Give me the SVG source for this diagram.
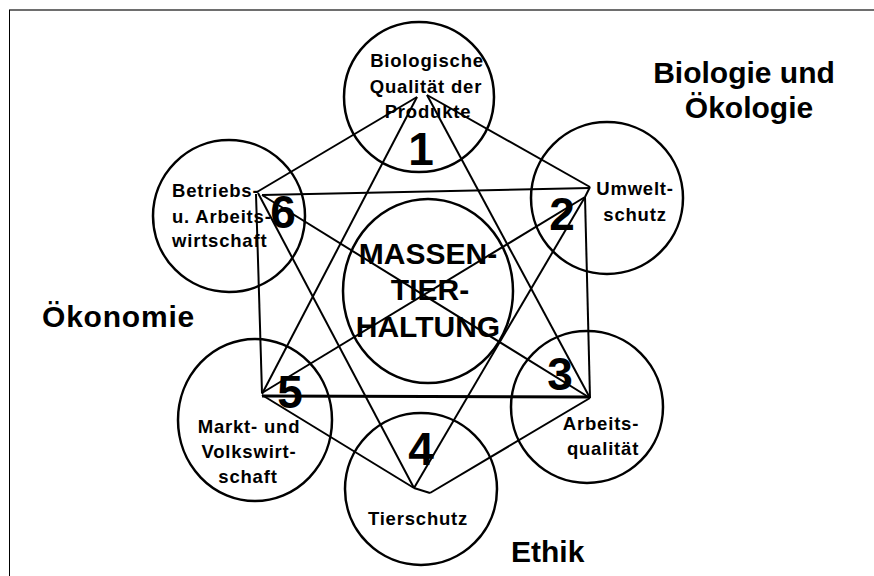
<svg xmlns="http://www.w3.org/2000/svg" width="874" height="576" viewBox="0 0 874 576">
<style>
.c{fill:none;stroke:#000;stroke-width:2.5}
.t{font-family:"Liberation Sans",Arial,sans-serif;font-weight:bold;font-size:18.5px;letter-spacing:0.8px;fill:#000}
.n{font-family:"Liberation Sans",Arial,sans-serif;font-weight:bold;font-size:46px;fill:#000;text-anchor:middle}
.m{font-family:"Liberation Sans",Arial,sans-serif;font-weight:bold;font-size:30px;fill:#000;text-anchor:middle}
.o{font-family:"Liberation Sans",Arial,sans-serif;font-weight:bold;font-size:30px;fill:#000}
.l{stroke:#000;stroke-width:2;fill:none}
</style>
<rect width="874" height="576" fill="#fff"/>
<line x1="9" y1="10" x2="874" y2="10" stroke="#6e6e6e" stroke-width="2"/>
<line x1="9.5" y1="10" x2="9.5" y2="576" stroke="#000" stroke-width="1"/>
<g id="node-center">
<ellipse class="c" cx="428" cy="291" rx="85" ry="92"/>
<text class="m" x="428" y="264">MASSEN-</text>
<text class="m" x="430" y="300">TIER-</text>
<text class="m" x="428" y="337">HALTUNG</text>
</g>
<g id="node-1">
<circle class="c" cx="419" cy="97" r="75"/>
<text class="t" text-anchor="middle" x="427" y="67">Biologische</text>
<text class="t" text-anchor="middle" x="426" y="93">Qualität der</text>
<text class="t" text-anchor="middle" x="428" y="118">Produkte</text>
<text class="n" x="421" y="165">1</text>
</g>
<g id="node-2">
<circle class="c" cx="607" cy="198" r="76"/>
<text class="t" text-anchor="middle" x="635" y="195">Umwelt-</text>
<text class="t" text-anchor="middle" x="635" y="221">schutz</text>
<text class="n" x="562" y="230">2</text>
</g>
<g id="node-3">
<circle class="c" cx="587" cy="407" r="76"/>
<text class="t" text-anchor="middle" x="601" y="430">Arbeits-</text>
<text class="t" text-anchor="middle" x="603" y="455">qualität</text>
<text class="n" x="560" y="390">3</text>
</g>
<g id="node-4">
<circle class="c" cx="421" cy="489" r="76"/>
<text class="t" text-anchor="middle" x="418" y="525">Tierschutz</text>
<text class="n" x="421" y="465">4</text>
</g>
<g id="node-5">
<ellipse class="c" cx="255" cy="420" rx="77" ry="81"/>
<text class="t" text-anchor="middle" x="249" y="433">Markt- und</text>
<text class="t" text-anchor="middle" x="249" y="458">Volkswirt-</text>
<text class="t" text-anchor="middle" x="248" y="483">schaft</text>
<text class="n" x="290" y="408">5</text>
</g>
<g id="node-6">
<circle class="c" cx="229" cy="216" r="76"/>
<text class="t" x="172" y="197">Betriebs-</text>
<text class="t" x="172" y="223">u. Arbeits-</text>
<text class="t" x="172" y="247">wirtschaft</text>
<text class="n" x="283" y="228">6</text>
</g>
<g id="connectors">
<line class="l" x1="417" y1="97" x2="257" y2="192"/>
<line class="l" x1="427" y1="95" x2="590" y2="187"/>
<line class="l" x1="427" y1="95" x2="590" y2="398"/>
<line class="l" x1="417" y1="97" x2="262" y2="394"/>
<line class="l" x1="262" y1="195" x2="590" y2="188"/>
<line class="l" x1="256" y1="194" x2="262" y2="393"/>
<line class="l" x1="585" y1="197" x2="590" y2="398"/>
<line x1="262" y1="396" x2="590" y2="397" stroke="#000" stroke-width="3"/>
<line class="l" x1="262" y1="195" x2="590" y2="398"/>
<line class="l" x1="262" y1="393" x2="585" y2="197"/>
<line class="l" x1="414" y1="488" x2="258" y2="193"/>
<line class="l" x1="414" y1="488" x2="585" y2="197"/>
<line class="l" x1="262" y1="395" x2="414" y2="488"/>
<line class="l" x1="430" y1="493" x2="590" y2="398"/>
<line class="l" x1="414" y1="488" x2="430" y2="493"/>
<line class="l" x1="590" y1="187" x2="585" y2="197"/>
</g>
<g id="labels">
<text class="o" text-anchor="middle" x="744" y="83">Biologie und</text>
<text class="o" text-anchor="middle" x="749" y="118">Ökologie</text>
<text class="o" x="42" y="327" letter-spacing="0.8">Ökonomie</text>
<text class="o" x="511" y="562">Ethik</text>
</g>
</svg>
